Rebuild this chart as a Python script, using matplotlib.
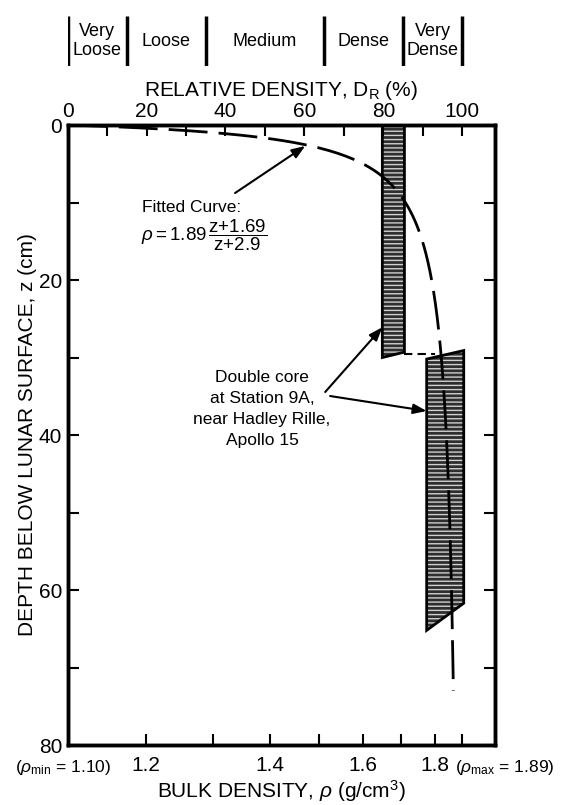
import numpy as np
import matplotlib
matplotlib.use('Agg')
import matplotlib.pyplot as plt
from matplotlib.patches import Polygon

plt.rcParams['font.family'] = ['Liberation Sans', 'DejaVu Sans']
plt.rcParams['mathtext.fontset'] = 'custom'
plt.rcParams['mathtext.rm'] = 'Liberation Sans'
plt.rcParams['mathtext.it'] = 'Liberation Sans:italic'
plt.rcParams['hatch.linewidth'] = 1.0

# ---- data ----
RHO_MIN = 1.10
RHO_MAX = 1.89
FIT_A = 1.69          # rho = 1.89 (z + 1.69) / (z + 2.9)
FIT_B = 2.9
Z_FIT_END = 73.0
RHO_AXIS_RIGHT = 2.01

class_bounds = [0, 15, 35, 65, 85, 100]
class_labels = ['Very\nLoose', 'Loose', 'Medium', 'Dense', 'Very\nDense']

dr_ticks = [0, 10, 20, 30, 40, 50, 60, 70, 80, 90, 100]
dr_labels = ['0', '', '20', '', '40', '', '60', '', '80', '', '100']
rho_ticks = [1.2, 1.3, 1.4, 1.5, 1.6, 1.7, 1.8, 1.89]
rho_labels = ['1.2', '', '1.4', '', '1.6', '', '1.8', '']
z_ticks = [0, 10, 20, 30, 40, 50, 60, 70, 80]
z_labels = ['0', '', '20', '', '40', '', '60', '', '80']

upper_core_rho = [1.65, 1.71, 1.71, 1.65]
upper_core_z = [0.0, 0.0, 29.3, 30.0]
lower_core_rho = [1.775, 1.895, 1.895, 1.775]
lower_core_z = [30.2, 29.1, 61.7, 65.2]
gap_rho = [1.71, 1.80]
gap_z = [29.5, 29.5]


def rho_to_dr(r):
    r = np.asarray(r, dtype=float)
    with np.errstate(divide='ignore', invalid='ignore'):
        return 100.0 * RHO_MAX * (r - RHO_MIN) / (r * (RHO_MAX - RHO_MIN))


def dr_to_rho(d):
    d = np.asarray(d, dtype=float)
    with np.errstate(divide='ignore', invalid='ignore'):
        return RHO_MIN * RHO_MAX / (RHO_MAX - d / 100.0 * (RHO_MAX - RHO_MIN))


fig = plt.figure(figsize=(5.61, 8.05), dpi=100)
ax = fig.add_axes([0.1205, 0.0745, 0.762, 0.7702])
ax.set_xscale('function', functions=(rho_to_dr, dr_to_rho))
ax.set_xlim(RHO_MIN, RHO_AXIS_RIGHT)
ax.set_ylim(80, 0)

# fitted curve
z = np.linspace(0, Z_FIT_END, 400)
rho_fit = RHO_MAX * (z + FIT_A) / (z + FIT_B)
ax.plot(rho_fit, z, color='black', lw=2.0, linestyle=(0, (14, 4)), zorder=4)

# cores
for rr, zz in ((upper_core_rho, upper_core_z), (lower_core_rho, lower_core_z)):
    pts = np.column_stack([rr, zz])
    ax.add_patch(Polygon(pts, closed=True, facecolor='#2e2e2e', edgecolor='#d0d0d0',
                         hatch='----', lw=0, zorder=2))
    ax.add_patch(Polygon(pts, closed=True, fill=False, edgecolor='black', lw=2, zorder=3))

ax.plot(gap_rho, gap_z, color='black', lw=1.5, linestyle=(0, (4, 2.5)), zorder=3)

# axes styling
for s in ax.spines.values():
    s.set_linewidth(2.5)
ax.set_xticks(rho_ticks, rho_labels)
ax.set_yticks(z_ticks, z_labels)
ax.tick_params(axis='x', direction='in', length=8, width=1.5, labelsize=15, pad=8)
ax.tick_params(axis='y', direction='in', length=8, width=1.5, labelsize=15, right=True, pad=4)
ax.minorticks_off()
ax.set_xlabel(r'BULK DENSITY, $\rho$ (g/cm$^3$)', fontsize=15, labelpad=2)
ax.set_ylabel('DEPTH BELOW LUNAR SURFACE, z (cm)', fontsize=15, labelpad=1)

ax2 = ax.twiny()
ax2.set_xlim(rho_to_dr(np.array(ax.get_xlim())))
ax2.set_xticks(dr_ticks, dr_labels)
ax2.tick_params(axis='x', direction='in', length=8, width=1.5, labelsize=15, pad=3)
for s in ax2.spines.values():
    s.set_linewidth(2.5)
ax2.set_xlabel(r'RELATIVE DENSITY, D$_{\rm R}$ (%)', fontsize=15, labelpad=4)

# class band
axb = fig.add_axes([0.1205, 1 - 66.5 / 805, 0.762, 50.5 / 805])
axb.set_xlim(ax2.get_xlim())
axb.set_ylim(0, 1)
axb.axis('off')
axb.vlines(class_bounds, 0, 1, colors='black', lw=2.5)
for a, b, lab in zip(class_bounds[:-1], class_bounds[1:], class_labels):
    axb.text((a + b) / 2, 0.5, lab, ha='center', va='center', fontsize=13, linespacing=1.15)

# annotations
ax.text(0.1734, 0.8677, 'Fitted Curve:', transform=ax.transAxes, ha='left', va='center', fontsize=12.5)
ax.text(0.1717, 0.8226, r'$\rho = 1.89\,\dfrac{\mathrm{z{+}1.69}}{\mathrm{z{+}2.9}}$',
        transform=ax.transAxes, ha='left', va='center', fontsize=13.5)
arrow = dict(arrowstyle='-|>,head_length=0.8,head_width=0.3', color='black', lw=1.5,
             shrinkA=0, shrinkB=0)
ax.annotate('', xy=(1.47, 2.7), xycoords='data', xytext=(0.3917, 0.8903),
            textcoords='axes fraction', arrowprops=arrow)

ax.text(0.4548, 0.5427, 'Double core\nat Station 9A,\nnear Hadley Rille,\nApollo 15',
        transform=ax.transAxes, ha='center', va='center', fontsize=12.5, linespacing=1.5)
ax.annotate('', xy=(1.65, 26.1), xycoords='data', xytext=(0.6026, 0.5694),
            textcoords='axes fraction', arrowprops=arrow)
ax.annotate('', xy=(1.775, 36.9), xycoords='data', xytext=(0.614, 0.5629),
            textcoords='axes fraction', arrowprops=arrow)

fig.text(0.112, 0.0472, r'($\rho_{\rm min}$ = 1.10)', ha='center', va='center', fontsize=12.5)
fig.text(0.900, 0.0472, r'($\rho_{\rm max}$ = 1.89)', ha='center', va='center', fontsize=12.5)

fig.savefig('out.png', dpi=100)
